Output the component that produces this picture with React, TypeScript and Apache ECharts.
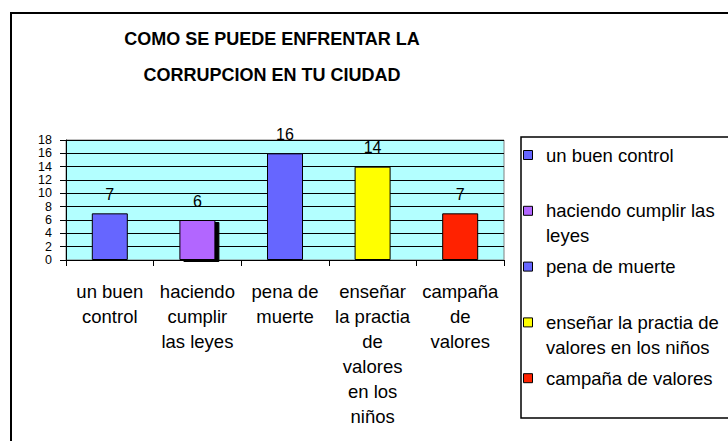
import React, { useEffect, useRef } from "react";
import * as echarts from "echarts";

const titleText = "COMO SE PUEDE ENFRENTAR LA\nCORRUPCION EN TU CIUDAD";
const categories = [
  "un buen control",
  "haciendo cumplir las leyes",
  "pena de muerte",
  "enseñar la practia de valores en los niños",
  "campaña de valores",
];
const values = [7, 6, 16, 14, 7];
const barColors = ["#6666FF", "#B266FF", "#6666FF", "#FFFF00", "#FF2200"];
const xTickLabels = [
  "un buen\ncontrol",
  "haciendo\ncumplir\nlas leyes",
  "pena de\nmuerte",
  "enseñar\nla practia\nde\nvalores\nen los\nniños",
  "campaña\nde\nvalores",
];
const legendLabels = [
  "un buen control",
  "haciendo cumplir las\nleyes",
  "pena de muerte",
  "enseñar la practia de\nvalores en los niños",
  "campaña de valores",
];
const yMin = 0;
const yMax = 18;
const yInterval = 2;

const FONT = "Arial, 'Liberation Sans', sans-serif";

export default function App() {
  const ref = useRef<HTMLDivElement>(null);
  useEffect(() => {
    if (!ref.current) return;
    const chart = echarts.init(ref.current, undefined, { renderer: "svg" });

    const legendGraphics: any[] = [];
    categories.forEach((c, i) => {
      const cy = 155 + i * 55.8;
      legendGraphics.push({
        type: "rect",
        shape: { x: 523.5, y: cy - 4.5, width: 9, height: 9 },
        style: { fill: barColors[i], stroke: "#000", lineWidth: 1 },
        z: 10,
      });
      legendGraphics.push({
        type: "text",
        x: 546,
        y: cy - 12.5,
        style: {
          text: legendLabels[i],
          font: `18.5px ${FONT}`,
          lineHeight: 25,
          fill: "#000",
          align: "left",
          verticalAlign: "top",
        },
        z: 10,
      });
    });

    chart.setOption({
      animation: false,
      backgroundColor: "#fff",
      graphic: [
        {
          type: "rect",
          shape: { x: 11, y: 13, width: 800, height: 500 },
          style: { fill: "none", stroke: "#000", lineWidth: 2 },
          z: 0,
        },
        {
          type: "text",
          x: 272,
          y: 21,
          style: {
            text: titleText,
            font: `bold 18px ${FONT}`,
            lineHeight: 36,
            fill: "#000",
            align: "center",
            verticalAlign: "top",
          },
        },
        {
          type: "rect",
          shape: { x: 521, y: 137, width: 300, height: 281 },
          style: { fill: "#fff", stroke: "#000", lineWidth: 1.5 },
          z: 5,
        },
        ...legendGraphics,
      ],
      grid: {
        left: 66,
        right: 224,
        top: 140,
        bottom: 181,
        show: true,
        backgroundColor: "#B3FFFF",
        borderColor: "#808080",
        borderWidth: 1,
      },
      xAxis: {
        type: "category",
        data: categories,
        boundaryGap: true,
        axisLine: { show: true, lineStyle: { color: "#000", width: 1 } },
        axisTick: { show: true, length: 6, lineStyle: { color: "#000" } },
        axisLabel: {
          interval: 0,
          margin: 19,
          color: "#000",
          fontFamily: FONT,
          fontSize: 18.5,
          lineHeight: 25,
          align: "center",
          formatter: (_v: string, idx: number) => xTickLabels[idx],
        },
      },
      yAxis: {
        type: "value",
        min: yMin,
        max: yMax,
        interval: yInterval,
        axisLine: { show: true, lineStyle: { color: "#000", width: 1 } },
        axisTick: { show: true, length: 6, lineStyle: { color: "#000" } },
        axisLabel: {
          margin: 14,
          color: "#000",
          fontFamily: FONT,
          fontSize: 12.5,
          lineHeight: 13,
          showMinLabel: true,
          showMaxLabel: true,
          hideOverlap: false,
        },
        splitLine: { show: true, lineStyle: { color: "#000", width: 1 } },
      },
      series: [
        {
          type: "bar",
          barWidth: 36,
          data: values.map((v, i) => ({
            value: v,
            itemStyle: {
              color: barColors[i],
              borderColor: "#000",
              borderWidth: 1,
              ...(i === 1
                ? { shadowColor: "#000", shadowOffsetX: 4, shadowOffsetY: 2, shadowBlur: 0 }
                : {}),
            },
          })),
          label: {
            show: true,
            position: "top",
            distance: 11,
            color: "#000",
            fontFamily: FONT,
            fontSize: 16,
          },
        },
      ],
    });
    return () => chart.dispose();
  }, []);
  return (
    <div
      ref={ref}
      style={{ position: "absolute", left: 0, top: 0, width: 728, height: 441 }}
    />
  );
}
